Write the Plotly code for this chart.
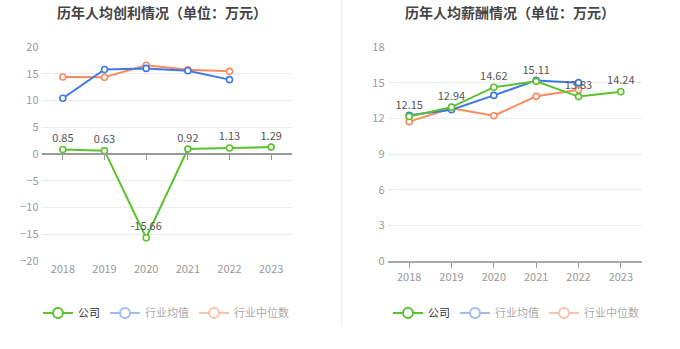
import plotly.graph_objects as go

years = ["2018", "2019", "2020", "2021", "2022", "2023"]

# 历年人均创利
profit_company = [0.85, 0.63, -15.66, 0.92, 1.13, 1.29]
profit_ind_mean = [10.43, 15.8, 16.0, 15.55, 13.9, None]
profit_ind_median = [14.4, 14.35, 16.6, 15.75, 15.45, None]

# 历年人均薪酬
salary_company = [12.15, 12.94, 14.62, 15.11, 13.83, 14.24]
salary_ind_mean = [12.25, 12.73, 13.93, 15.19, 15.0, None]
salary_ind_median = [11.72, 12.84, 12.22, 13.85, 14.4, None]

series_names = ["公司", "行业均值", "行业中位数"]
titles = ["历年人均创利情况（单位：万元）", "历年人均薪酬情况（单位：万元）"]

GREEN = "#5ac22c"
BLUE = "#3c78e6"
ORANGE = "#fb8a5c"
GREEN_L = "#5ac22c"
BLUE_L = "#9fbdf3"
ORANGE_L = "#fdc2a9"
FONT = "Noto Sans CJK SC"

W, H = 680, 349
def fx(px):
    return px / W
def fy(py):
    return 1 - py / H

fig = go.Figure()

def add_series(xa, ya, vals, color, label_vals=None):
    if label_vals is not None:
        kw = dict(mode="lines+markers+text",
                  text=[f"{v:.2f}" if v is not None else "" for v in label_vals],
                  textposition="top center",
                  textfont=dict(family=FONT, size=11, color="#555"))
    else:
        kw = dict(mode="lines+markers")
    fig.add_trace(go.Scatter(
        x=years, y=vals, xaxis=xa, yaxis=ya, showlegend=False,
        line=dict(color=color, width=2),
        marker=dict(symbol="circle", size=6, color="white", line=dict(color=color, width=1.6)),
        cliponaxis=False, connectgaps=False, **kw))

# left chart
add_series("x", "y", profit_ind_median, ORANGE)
add_series("x", "y", profit_ind_mean, BLUE)
add_series("x", "y", profit_company, GREEN, profit_company)
# right chart
add_series("x2", "y2", salary_ind_median, ORANGE)
add_series("x2", "y2", salary_ind_mean, BLUE)
add_series("x2", "y2", salary_company, GREEN, salary_company)

# legend-only entries
leg_colors = [GREEN_L, BLUE_L, ORANGE_L]
leg_text = ["#333", "#aaa", "#aaa"]
for lg in ["legend", "legend2"]:
    for name, c, tc in zip(series_names, leg_colors, leg_text):
        fig.add_trace(go.Scatter(
            x=[None], y=[None], mode="lines+markers", legend=lg,
            name=f"<span style='color:{tc}'>{name}</span>",
            line=dict(color=c, width=2),
            marker=dict(symbol="circle", size=10, color="white", line=dict(color=c, width=2)),
            xaxis="x" if lg == "legend" else "x2", yaxis="y" if lg == "legend" else "y2"))

# invisible trace for zero-line tick axis on left chart
fig.add_trace(go.Scatter(x=[0], y=[None], xaxis="x3", yaxis="y", showlegend=False, mode="markers",
                         marker=dict(opacity=0)))

ydom = [fy(261), fy(47)]
grid = "#e9ecf4"
tickfont = dict(family=FONT, size=11, color="#999")

left_range = [-20, 20]
zero_pos = ydom[0] + (0 - left_range[0]) / (left_range[1] - left_range[0]) * (ydom[1] - ydom[0])

fig.update_layout(
    width=W, height=H, margin=dict(l=0, r=0, t=0, b=0, autoexpand=False),
    paper_bgcolor="white", plot_bgcolor="white",
    font=dict(family=FONT),
    xaxis=dict(domain=[fx(42), fx(292)], type="category", categoryorder="array", categoryarray=years,
               range=[-0.5, 5.5], showgrid=False, showline=False, ticks="", tickfont=tickfont,
               anchor="y", fixedrange=True, automargin=False),
    xaxis3=dict(overlaying="x", anchor="free", position=zero_pos, range=[-0.5, 5.5],
                tickvals=[0, 1, 2, 3, 4, 5], showticklabels=False, ticks="outside", ticklen=5,
                tickcolor="#999", showline=True, linecolor="#999", linewidth=1.5, showgrid=False,
                zeroline=False, automargin=False),
    yaxis=dict(domain=ydom, range=left_range, dtick=5, tickfont=tickfont, showgrid=True,
               gridcolor=grid, gridwidth=1, zeroline=False, showline=False, ticks="",
               ticksuffix=" ", anchor="x", automargin=False),
    xaxis2=dict(domain=[fx(388), fx(642)], type="category", categoryorder="array", categoryarray=years,
                range=[-0.5, 5.5], showgrid=False, showline=True, linecolor="#aaa", linewidth=1.5,
                ticks="outside", ticklen=5, tickcolor="#999", tickfont=tickfont, anchor="y2",
                automargin=False),
    yaxis2=dict(domain=ydom, range=[0, 18], dtick=3, tickfont=tickfont, showgrid=True,
                gridcolor=grid, gridwidth=1, zeroline=False, showline=False, ticks="",
                ticksuffix=" ", anchor="x2", automargin=False),
    legend=dict(orientation="h", x=fx(166), xanchor="center", y=fy(313), yanchor="middle",
                font=dict(family=FONT, size=11, color="#333"), itemwidth=30,
                bgcolor="rgba(0,0,0,0)", tracegroupgap=0),
    legend2=dict(orientation="h", x=fx(516), xanchor="center", y=fy(313), yanchor="middle",
                 font=dict(family=FONT, size=11, color="#333"), itemwidth=30,
                 bgcolor="rgba(0,0,0,0)", tracegroupgap=0),
    annotations=[
        dict(text=f"<b>{titles[0]}</b>", x=fx(162), y=fy(12), xref="paper", yref="paper",
             showarrow=False, xanchor="center", yanchor="middle",
             font=dict(family=FONT, size=14, color="#444")),
        dict(text=f"<b>{titles[1]}</b>", x=fx(510), y=fy(12), xref="paper", yref="paper",
             showarrow=False, xanchor="center", yanchor="middle",
             font=dict(family=FONT, size=14, color="#444")),
    ],
    shapes=[dict(type="line", xref="paper", yref="paper", x0=fx(341.5), x1=fx(341.5),
                 y0=fy(0), y1=fy(326), line=dict(color="#f2f2f2", width=1.5))],
)

fig.write_html("out.html")
